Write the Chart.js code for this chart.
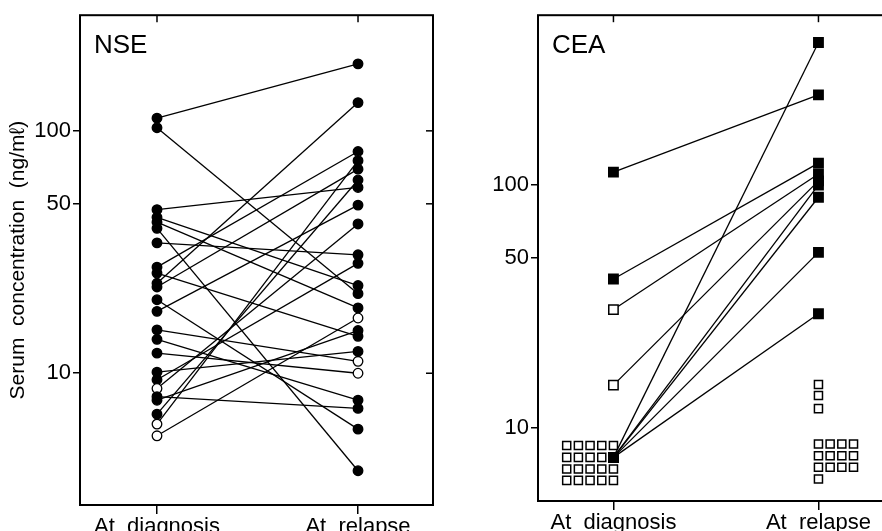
<!DOCTYPE html>
<html>
<head>
<meta charset="utf-8">
<script src="https://cdn.jsdelivr.net/npm/chart.js@4.4.0/dist/chart.umd.min.js"></script>
<style>
  html, body { margin: 0; padding: 0; background: #fff; overflow: hidden; }
  body { width: 882px; height: 531px; position: relative; }
  canvas { position: absolute; top: 0; }
  #nse { left: 0; }
  #cea { left: 450px; }
</style>
</head>
<body>
<canvas id="nse" width="450" height="531"></canvas>
<canvas id="cea" width="460" height="531"></canvas>
<script>
// NSE, one value per patient, same order in both arrays
const nseDiagnosis = [112.8, 103, 47.3, 44, 42, 39.6, 34.5, 27.4, 25.9, 23.5, 22.7, 20.1,
                      18.0, 15.1, 13.8, 12.1, 10.1, 9.4, 8.65, 8.0, 7.74, 6.78, 6.17, 5.52];
const nseRelapse   = [189, 21.3, 58.4, 23.0, 18.6, 3.96, 30.8, 82.2, 14.2, 130.8, 69.5, 5.88,
                      49.4, 11.2, 7.74, 10.0, 12.3, 28.4, 41.3, 7.16, 15.0, 62.7, 75.3, 16.9];
// patients drawn with open circles
const nseDiagnosisOpen = [18, 22, 23];
const nseRelapseOpen = [13, 15, 23];

// CEA, patients with a line
const ceaDiagnosis = [113, 41, 30.7, 15.0, 7.56, 7.56, 7.56, 7.56, 7.56];
const ceaRelapse   = [235, 123, 111, 104, 386, 100, 89, 52.8, 29.5];
const ceaDiagnosisOpen = [2, 3];
// CEA, patients below the cut-off (open squares, stacked in rows)
const ceaDiagLowRows = [8.46, 7.56, 6.77, 6.08];
const ceaDiagLowCounts = [5, 4, 5, 5];
const ceaRelLowRows = [8.58, 7.68, 6.88, 6.16];
const ceaRelLowCounts = [4, 4, 4, 1];
const ceaRelSingles = [15.1, 13.6, 12.0];

const xLabels = ['At  diagnosis', 'At  relapse'];
const yTicks = [10, 50, 100];

const FONT = "'Liberation Sans', Arial, sans-serif";
const COL_STEP = 0.057;

const framePlugin = {
    id: 'frame',
    afterDraw(chart, args, opts) {
        const ctx = chart.ctx;
        const a = chart.chartArea;
        ctx.save();
        ctx.strokeStyle = '#000';
        ctx.lineWidth = 2;
        ctx.strokeRect(a.left, a.top, a.right - a.left, a.bottom - a.top);
        ctx.lineWidth = 1.5;
        [0, 1].forEach(v => {
            const px = chart.scales.x.getPixelForValue(v);
            ctx.beginPath();
            ctx.moveTo(px, a.top);
            ctx.lineTo(px, a.top + 7);
            ctx.stroke();
        });
        yTicks.forEach(v => {
            const py = chart.scales.y.getPixelForValue(v);
            ctx.beginPath();
            ctx.moveTo(a.right, py);
            ctx.lineTo(a.right - 7, py);
            ctx.stroke();
        });
        ctx.fillStyle = '#000';
        ctx.font = '26px ' + FONT;
        ctx.textBaseline = 'alphabetic';
        ctx.fillText(opts.label, a.left + 14, a.top + 38);
        ctx.restore();
    }
};

function lineSets(diag, rel) {
    return diag.map((d, i) => ({
        data: [{x: 0, y: d}, {x: 1, y: rel[i]}],
        borderColor: '#000',
        borderWidth: 1.3,
        pointRadius: 0,
        showLine: true,
        order: 1
    }));
}

function markerSet(points, style, radius, fills, borderWidth) {
    return {
        data: points,
        showLine: false,
        pointStyle: style,
        pointRadius: radius,
        pointBackgroundColor: fills,
        pointBorderColor: '#000',
        pointBorderWidth: borderWidth,
        order: 0
    };
}

function makeChart(id, datasets, o) {
    new Chart(document.getElementById(id).getContext('2d'), {
        type: 'line',
        data: { datasets: datasets },
        plugins: [framePlugin],
        options: {
            responsive: false,
            animation: false,
            layout: { padding: { top: o.top, right: o.right, left: 0, bottom: 0 } },
            plugins: {
                legend: { display: false },
                tooltip: { enabled: false },
                frame: { label: o.label }
            },
            scales: {
                x: {
                    type: 'linear',
                    min: o.xMin,
                    max: o.xMax,
                    afterBuildTicks: s => { s.ticks = [{value: 0}, {value: 1}]; },
                    afterFit: s => { s.height = o.xHeight; },
                    ticks: {
                        callback: v => xLabels[v],
                        color: '#000',
                        font: { family: FONT, size: 22 },
                        padding: 0,
                        maxRotation: 0,
                        autoSkip: false
                    },
                    grid: { drawOnChartArea: false, tickLength: 9, color: '#000', lineWidth: 1.5 },
                    border: { display: false }
                },
                y: {
                    type: 'logarithmic',
                    min: o.yMin,
                    max: o.yMax,
                    afterBuildTicks: s => { s.ticks = yTicks.map(v => ({value: v})); },
                    afterFit: s => { s.width = o.yWidth; },
                    ticks: {
                        callback: v => String(v),
                        color: '#000',
                        font: { family: FONT, size: 22 },
                        padding: 2
                    },
                    grid: { drawOnChartArea: false, tickLength: 7, color: '#000', lineWidth: 1.5 },
                    border: { display: false },
                    title: {
                        display: !!o.yTitle,
                        text: o.yTitle || '',
                        color: '#000',
                        font: { family: FONT, size: 21 },
                        padding: { top: 6, bottom: 0 }
                    }
                }
            }
        }
    });
}

// ---- NSE panel
const nseSets = lineSets(nseDiagnosis, nseRelapse);
nseSets.push(markerSet(
    nseDiagnosis.map(v => ({x: 0, y: v})), 'circle', 4.8,
    nseDiagnosis.map((v, i) => nseDiagnosisOpen.includes(i) ? '#fff' : '#000'), 1.3));
nseSets.push(markerSet(
    nseRelapse.map(v => ({x: 1, y: v})), 'circle', 4.8,
    nseRelapse.map((v, i) => nseRelapseOpen.includes(i) ? '#fff' : '#000'), 1.3));

makeChart('nse', nseSets, {
    label: 'NSE', top: 14, right: 17, xHeight: 26, yWidth: 80,
    xMin: -0.383, xMax: 1.373, yMin: 2.86, yMax: 300,
    yTitle: 'Serum  concentration  (ng/m\u2113)'
});

// ---- CEA panel
const ceaSets = lineSets(ceaDiagnosis, ceaRelapse);
const lowDiag = [];
ceaDiagLowRows.forEach((v, r) => {
    for (let c = 0; c < ceaDiagLowCounts[r]; c++) lowDiag.push({x: (c - 4) * COL_STEP, y: v});
});
const lowRel = [];
ceaRelLowRows.forEach((v, r) => {
    for (let c = 0; c < ceaRelLowCounts[r]; c++) lowRel.push({x: 1 + c * COL_STEP, y: v});
});
ceaRelSingles.forEach(v => lowRel.push({x: 1, y: v}));

ceaSets.push(markerSet(lowDiag.concat(lowRel), 'rect', 5.7, '#fff', 1.5));
ceaSets.push(markerSet(
    ceaDiagnosis.map(v => ({x: 0, y: v})), 'rect', 6.6,
    ceaDiagnosis.map((v, i) => ceaDiagnosisOpen.includes(i) ? '#fff' : '#000'), 1.5));
ceaSets.push(markerSet(
    ceaRelapse.map(v => ({x: 1, y: v})), 'rect', 6.6, '#000', 1.5));

makeChart('cea', ceaSets, {
    label: 'CEA', top: 13, right: 0, xHeight: 30, yWidth: 88,
    xMin: -0.368, xMax: 1.407, yMin: 5, yMax: 500
});
</script>
</body>
</html>
